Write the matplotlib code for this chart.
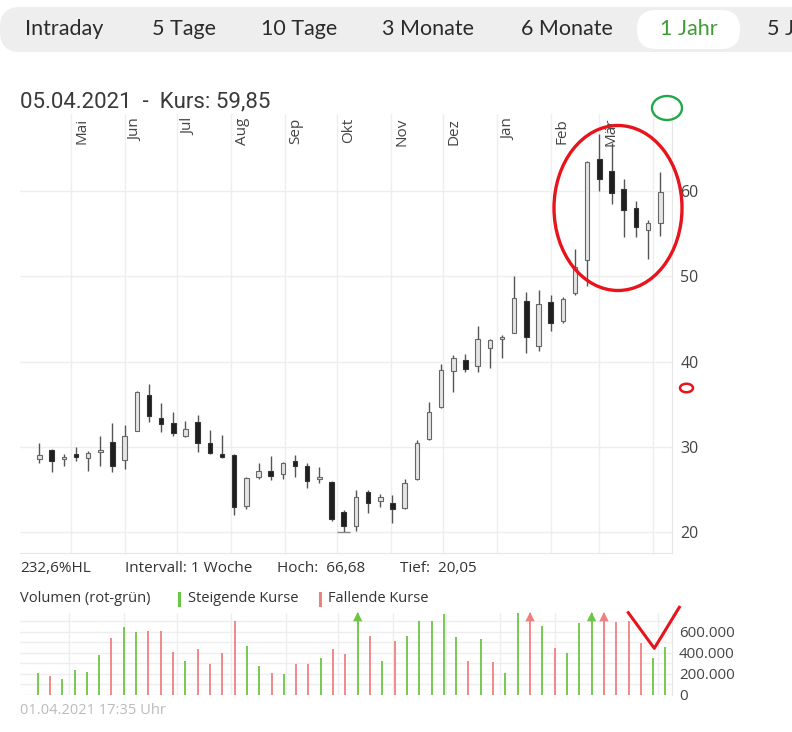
import datetime as dt

import matplotlib
matplotlib.use("Agg")
import matplotlib.pyplot as plt
import matplotlib.dates as mdates
from matplotlib.patches import FancyBboxPatch, Ellipse
import numpy as np

W, H = 792, 732

# weekly candles, one per week starting 13.04.2020, last one 05.04.2021
first_week = dt.date(2020, 4, 13)
opens = [28.53, 29.62, 28.53, 29.15, 28.65, 29.42, 30.53, 28.45, 31.90, 36.08,
         33.34, 32.76, 31.27, 32.87, 30.48, 29.12, 29.04, 23.09, 26.49, 27.16,
         26.80, 28.33, 27.75, 26.19, 25.90, 22.31, 20.74, 24.66, 23.67, 23.44,
         22.78, 26.22, 30.88, 34.70, 38.93, 40.19, 39.48, 41.56, 42.62, 43.39,
         47.15, 41.87, 46.96, 44.77, 48.02, 51.85, 63.74, 62.29, 60.26, 58.06,
         55.45, 56.23]
highs = [30.41, 29.70, 29.15, 30.00, 29.50, 31.27, 32.76, 32.56, 36.50, 37.37,
         35.10, 34.05, 33.03, 33.73, 31.97, 31.38, 29.10, 26.50, 28.06, 28.92,
         28.20, 29.04, 28.06, 27.60, 26.00, 22.55, 24.93, 24.93, 24.42, 24.34,
         26.22, 30.80, 35.20, 39.72, 40.77, 40.89, 44.18, 42.60, 43.12, 50.05,
         48.13, 48.40, 47.80, 47.62, 53.18, 63.50, 66.68, 65.62, 61.43, 58.85,
         56.60, 62.17]
lows = [28.06, 27.00, 27.75, 28.37, 27.20, 27.75, 27.00, 27.36, 31.80, 32.87,
        31.77, 31.27, 31.19, 29.42, 29.15, 28.72, 22.00, 22.70, 26.19, 26.10,
        26.19, 26.49, 25.13, 25.70, 21.33, 20.05, 20.10, 22.19, 22.97, 21.02,
        22.70, 26.10, 30.80, 34.50, 36.40, 38.74, 38.74, 39.21, 40.39, 43.30,
        40.97, 41.28, 43.63, 44.50, 47.80, 48.80, 60.02, 58.46, 54.66, 54.66,
        52.00, 54.74]
closes = [29.04, 28.37, 28.77, 28.84, 29.30, 29.62, 27.78, 31.27, 36.40, 33.65,
          32.64, 31.58, 32.10, 30.48, 29.23, 28.84, 22.97, 26.30, 27.16, 26.60,
          28.13, 27.78, 26.02, 26.42, 21.53, 20.70, 24.15, 23.44, 24.07, 22.70,
          25.72, 30.41, 34.02, 39.01, 40.46, 39.10, 42.65, 42.54, 42.85, 47.50,
          42.92, 46.76, 44.46, 47.35, 51.14, 63.40, 61.40, 59.82, 57.79, 55.83,
          56.23, 59.85]
volumes = [206000, 181000, 149000, 238000, 216000, 384000, 540000, 645000, 600000, 610000,
           610000, 410000, 327000, 435000, 292000, 397000, 705000, 467000, 276000, 206000,
           197000, 292000, 292000, 349000, 435000, 387000, 850000, 562000, 324000, 518000,
           562000, 705000, 705000, 768000, 549000, 327000, 530000, 314000, 206000, 778000,
           850000, 657000, 444000, 397000, 683000, 850000, 850000, 698000, 705000, 492000,
           349000, 454000]

month_starts = [dt.date(2020, m, 1) for m in range(5, 13)] + [dt.date(2021, m, 1) for m in range(1, 5)]
month_labels = ["Mai", "Jun", "Jul", "Aug", "Sep", "Okt", "Nov", "Dez", "Jan", "Feb", "Mär"]
price_ticks = [20, 30, 40, 50, 60]
vol_ticks = [0, 200000, 400000, 600000]

tabs = ["Intraday", "5 Tage", "10 Tage", "3 Monate", "6 Monate", "1 Jahr", "5 Jahre"]
tab_x = [64.5, 183.5, 299, 428.5, 566.5, 689, 767]

info = ["232,6%HL", "Intervall: 1 Woche", "Hoch:  66,68", "Tief:  20,05"]
info_x = [20, 125, 277, 400]

GREEN = "#6cc644"
RED = "#f08080"
GRID = "#eeeeee"
TXT = "#333333"

o = np.array(opens)
c = np.array(closes)
hi = np.array(highs)
lo = np.array(lows)
vol = np.array(volumes)
weeks = [first_week + dt.timedelta(days=7 * i) for i in range(len(opens))]
x = mdates.date2num(weeks)
mx = mdates.date2num(month_starts)

fig = plt.figure(figsize=(W / 100, H / 100), dpi=100)


def px_axes(left, top, right, bottom, **kw):
    return fig.add_axes([left / W, 1 - bottom / H, (right - left) / W, (bottom - top) / H], **kw)


# ---- price chart
ax = px_axes(20, 114, 672, 553)
ax.set_xlim(mdates.date2num(dt.datetime(2020, 4, 1, 20)), mdates.date2num(dt.datetime(2021, 4, 11, 18)))
ax.set_ylim(17.54, 69.03)
ax.set_axisbelow(True)

ax.vlines(x, lo, hi, color="#555555", lw=1.0, zorder=2)
rising = c >= o
body_lo = np.minimum(o, c)
body_h = np.maximum(np.abs(c - o), 0.12)
ax.bar(x, body_h, bottom=body_lo, width=2.6,
       color=np.where(rising, "#e4e4e4", "#1e1e1e"),
       edgecolor=np.where(rising, "#666666", "#333333"), lw=0.8, zorder=3)
i_low = int(np.argmin(lo))
ax.hlines(lo[i_low], x[i_low] - 3.8, x[i_low] + 3.8, color="#888888", lw=1.0, zorder=2)

ax.set_yticks(price_ticks)
ax.set_xticks(mx)
ax.set_xticklabels([])
ax.grid(True, color=GRID, lw=1)
ax.yaxis.tick_right()
ax.tick_params(length=0)
ax.tick_params(axis="y", pad=6, labelsize=11.5, labelcolor="#444444")
for s in ["left", "top"]:
    ax.spines[s].set_visible(False)
for s in ["right", "bottom"]:
    ax.spines[s].set_color("#e6e6e6")

for d, lab in zip(mx, month_labels):
    ax.annotate(lab, xy=(d, 1), xycoords=("data", "axes fraction"),
                xytext=(4, -4), textcoords="offset pixels",
                rotation=90, ha="left", va="top", fontsize=11,
                color="#444444", family="Open Sans")

# ---- volume chart
vtop = 780000
vax = px_axes(20, 613, 672, 695)
vax.set_xlim(mdates.date2num(dt.datetime(2020, 4, 3)), mdates.date2num(dt.datetime(2021, 4, 8, 17)))
vax.set_ylim(0, vtop)
vax.set_axisbelow(True)

up = np.concatenate([[True], c[1:] >= c[:-1]])
vcol = np.where(up, GREEN, RED)
vax.vlines(x, 0, np.minimum(vol, vtop), colors=vcol, lw=1.3, zorder=2)
over = vol > vtop
vax.scatter(x[over], np.full(over.sum(), 745000), marker="^", s=45,
            c=vcol[over], clip_on=False, zorder=3, linewidths=0)

vax.set_yticks(vol_ticks)
vax.set_yticklabels([f"{v:,}".replace(",", ".") for v in vol_ticks])
vax.set_yticks(np.arange(100000, 800000, 200000), minor=True)
vax.set_xticks(mx)
vax.set_xticklabels([])
vax.grid(True, which="both", color=GRID, lw=1)
vax.yaxis.tick_right()
vax.tick_params(which="both", length=0)
vax.tick_params(axis="y", pad=5, labelsize=10.8, labelcolor="#444444")
for s in ["left", "top", "bottom"]:
    vax.spines[s].set_visible(False)
vax.spines["right"].set_color("#e6e6e6")

for a in (ax, vax):
    for t in a.get_yticklabels():
        t.set_family("Open Sans")

# ---- page elements and hand-drawn marks
ov = fig.add_axes([0, 0, 1, 1], zorder=10)
ov.set_xlim(0, W)
ov.set_ylim(H, 0)
ov.axis("off")

ov.add_patch(FancyBboxPatch((0, 7), 900, 45, boxstyle="round,pad=0,rounding_size=20",
                            fc="#eeeeee", ec="none"))
ov.add_patch(FancyBboxPatch((637, 10), 103, 39, boxstyle="round,pad=0,rounding_size=19",
                            fc="white", ec="none"))
for t, tx in zip(tabs, tab_x):
    last = t == "5 Jahre"
    ov.text(tx, 29, t, ha="left" if last else "center", va="center", fontsize=15.5,
            family="Lato", color="#3f9b35" if t == "1 Jahr" else "#2b2b2b", clip_on=False)

ov.text(20, 102, "05.04.2021  -  Kurs: 59,85", ha="left", va="center", fontsize=16,
        family="Roboto", color="#3a3a3a")
for t, tx in zip(info, info_x):
    ov.text(tx, 568, t, ha="left", va="center", fontsize=11, family="Open Sans", color=TXT)

ov.text(20, 599, "Volumen (rot-grün)", ha="left", va="center", fontsize=10.5,
        family="Open Sans", color=TXT)
ov.plot([179, 179], [593, 605], color=GREEN, lw=2.2)
ov.text(188, 599, "Steigende Kurse", ha="left", va="center", fontsize=10.5,
        family="Open Sans", color=TXT)
ov.plot([320, 320], [593, 605], color=RED, lw=2.2)
ov.text(328, 599, "Fallende Kurse", ha="left", va="center", fontsize=10.5,
        family="Open Sans", color=TXT)

ov.text(20, 710, "01.04.2021 17:35 Uhr", ha="left", va="center", fontsize=10.5,
        family="Open Sans", color="#bbbbbb")

ov.add_patch(Ellipse((618, 208), 128, 165, fill=False, ec="#e8141c", lw=2.4))
ov.add_patch(Ellipse((667, 108), 30, 24, fill=False, ec="#22a84a", lw=1.7))
ov.add_patch(Ellipse((686.5, 388), 13, 8.5, fill=False, ec="#e8141c", lw=1.8))
ov.plot([628.3, 654.3, 679.3], [612.7, 648.3, 607.3], color="#e8141c", lw=2.2)

fig.savefig("out.png", dpi=100)
